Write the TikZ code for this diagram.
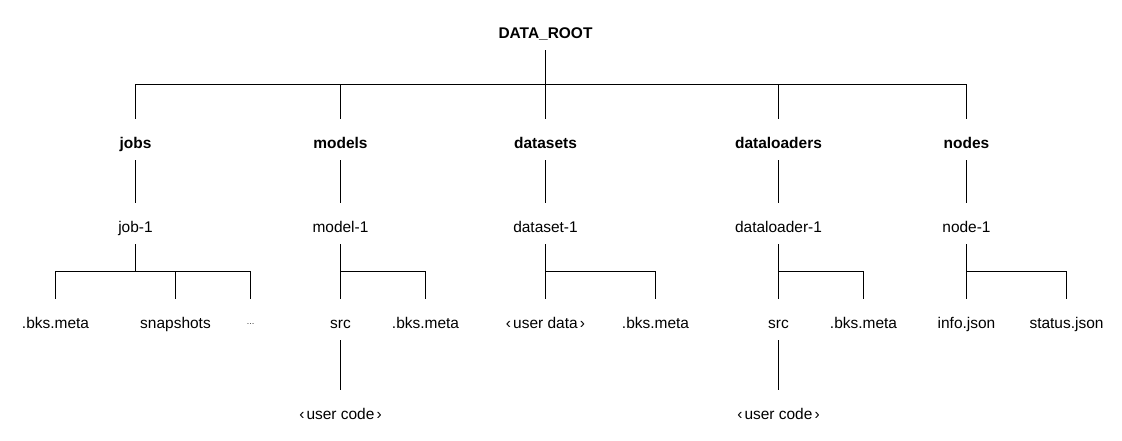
\documentclass[tikz,border=0pt]{standalone}
\usepackage{fontspec}
\setmainfont{Liberation Sans}
\usetikzlibrary{calc}

\tikzset{
  entry/.style={font=\fontsize{11.6}{14}\selectfont, inner sep=0pt,
                text height=21.4pt, text depth=8.6pt},
  folder/.style={entry, font=\fontsize{11.6}{14}\selectfont\bfseries},
}
\newcommand{\angled}[1]{‹\kern1.6pt#1\kern1.6pt›}

\begin{document}
\begin{tikzpicture}[line width=0.8pt, node distance=63pt,
    every edge/.style={draw,
      to path={(\tikztostart) |- ($(\tikztostart)!0.5!(\tikztotarget)$) -| (\tikztotarget)}}]

  \useasboundingbox (0,0) rectangle (841.5pt,-330.75pt);

  \node[folder] (root) at (409.125pt,-22.125pt) {DATA\_ROOT};

  \node[folder] (datasets)    [below of=root, node distance=82.5pt]      {datasets};
  \node[folder] (models)      [left of=datasets, node distance=153.75pt] {models};
  \node[folder] (jobs)        [left of=models, node distance=153.75pt]   {jobs};
  \node[folder] (dataloaders) [right of=datasets, node distance=174.75pt] {dataloaders};
  \node[folder] (nodes)       [right of=dataloaders, node distance=141pt] {nodes};

  \node[entry] (job1)   [below of=jobs]        {job-1};
  \node[entry] (model1) [below of=models]      {model-1};
  \node[entry] (data1)  [below of=datasets]    {dataset-1};
  \node[entry] (load1)  [below of=dataloaders] {dataloader-1};
  \node[entry] (node1)  [below of=nodes]       {node-1};

  \node[entry] (jsnap)   [below of=job1, node distance=72pt, xshift=30pt] {snapshots};
  \node[entry] (jmeta)   [left of=jsnap, node distance=90pt]     {.bks.meta};
  \node[entry] (jmore)   [right of=jsnap, node distance=56.25pt] {\fontsize{6}{7}\selectfont\raisebox{3pt}{…}};

  \node[entry] (msrc)    [below of=model1, node distance=72pt]   {src};
  \node[entry] (mmeta)   [right of=msrc, node distance=63.75pt]  {.bks.meta};
  \node[entry] (mcode)   [below of=msrc, node distance=68.25pt]  {\angled{user code}};

  \node[entry] (duser)   [below of=data1, node distance=72pt]    {\angled{user data}};
  \node[entry] (dmeta)   [right of=duser, node distance=82.5pt]  {.bks.meta};

  \node[entry] (lsrc)    [below of=load1, node distance=72pt]    {src};
  \node[entry] (lmeta)   [right of=lsrc, node distance=63.75pt]  {.bks.meta};
  \node[entry] (lcode)   [below of=lsrc, node distance=68.25pt]  {\angled{user code}};

  \node[entry] (ninfo)   [below of=node1, node distance=72pt]    {info.json};
  \node[entry] (nstatus) [right of=ninfo, node distance=75pt]    {status.json};

  \path (root)   edge (jobs) edge (models) edge (datasets) edge (dataloaders) edge (nodes)
        (jobs)   edge (job1)
        (models) edge (model1)
        (datasets) edge (data1)
        (dataloaders) edge (load1)
        (nodes)  edge (node1)
        (job1)   edge (jmeta) edge (jsnap) edge (jmore)
        (model1) edge (msrc) edge (mmeta)
        (msrc)   edge (mcode)
        (data1)  edge (duser) edge (dmeta)
        (load1)  edge (lsrc) edge (lmeta)
        (lsrc)   edge (lcode)
        (node1)  edge (ninfo) edge (nstatus);
\end{tikzpicture}
\end{document}
